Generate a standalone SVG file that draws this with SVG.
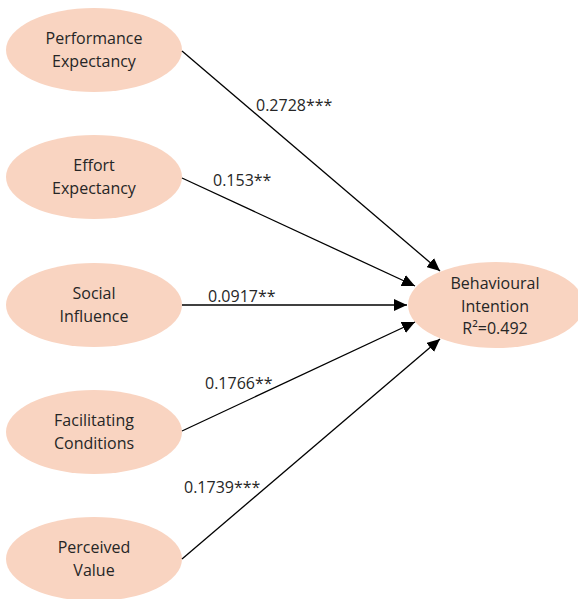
<svg xmlns="http://www.w3.org/2000/svg" width="578" height="599" viewBox="0 0 578 599">
<style>
.node ellipse{fill:#F9D4C1;stroke:none}
.node text,.lbl{font-family:"Open Sans","Liberation Sans",sans-serif;font-size:16px;fill:#262626}
.node text{text-anchor:middle}
.edges line{stroke:#000;stroke-width:1.3;marker-end:url(#ah)}
</style>
<defs>
<marker id="ah" markerUnits="userSpaceOnUse" markerWidth="14" markerHeight="12" viewBox="0 0 14 12" refX="13" refY="6" orient="auto">
<path d="M0,0 L13,6 L0,12 Z" fill="#000"/>
</marker>
</defs>
<rect width="578" height="599" fill="#fff"/>
<g id="n-pe" class="node"><ellipse cx="94" cy="50" rx="88" ry="42"/><text x="94" y="44">Performance</text><text x="94" y="67">Expectancy</text></g>
<g id="n-ee" class="node"><ellipse cx="94" cy="177" rx="88" ry="42"/><text x="94" y="171">Effort</text><text x="94" y="194">Expectancy</text></g>
<g id="n-si" class="node"><ellipse cx="94" cy="305" rx="88" ry="42"/><text x="94" y="299">Social</text><text x="94" y="322">Influence</text></g>
<g id="n-fc" class="node"><ellipse cx="94" cy="432" rx="88" ry="42"/><text x="94" y="426">Facilitating</text><text x="94" y="449">Conditions</text></g>
<g id="n-pv" class="node"><ellipse cx="94" cy="559" rx="88" ry="42"/><text x="94" y="553">Perceived</text><text x="94" y="576">Value</text></g>
<g id="n-bi" class="node"><ellipse cx="496" cy="305" rx="88" ry="43"/><text x="495" y="289">Behavioural</text><text x="495" y="312">Intention</text><text x="495" y="334">R²=0.492</text></g>
<g id="edges" class="edges">
<line x1="182" y1="51" x2="440" y2="271"/>
<line x1="182" y1="178" x2="415" y2="286"/>
<line x1="182" y1="305" x2="407" y2="305"/>
<line x1="182" y1="431" x2="415" y2="322"/>
<line x1="182" y1="559" x2="440" y2="339"/>
</g>
<g id="labels">
<text class="lbl" x="256" y="111">0.2728***</text>
<text class="lbl" x="213" y="186">0.153**</text>
<text class="lbl" x="208" y="302">0.0917**</text>
<text class="lbl" x="205" y="389">0.1766**</text>
<text class="lbl" x="184" y="493">0.1739***</text>
</g>
</svg>
